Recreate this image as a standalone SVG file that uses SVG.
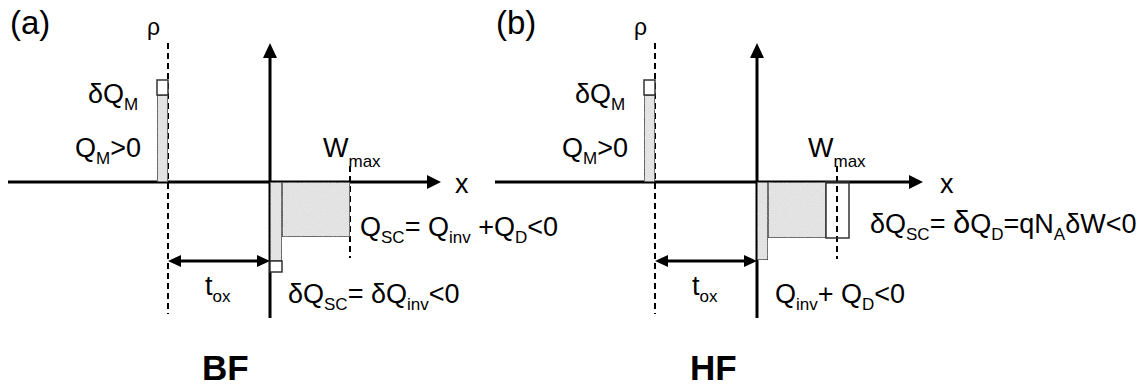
<svg xmlns="http://www.w3.org/2000/svg" width="1148" height="387" viewBox="0 0 1148 387">
<style>
  text { font-family: "Liberation Sans", Arial, sans-serif; fill: #000; white-space: pre; }
  .lbl { font-size: 27px; }
  .sub { font-size: 17px; }
  .panel { font-size: 33px; }
  .rho { font-size: 23px; }
  .big { font-size: 35px; font-weight: bold; }
  .axis { stroke: #000; stroke-width: 3; fill: none; }
  .dash { stroke: #000; stroke-width: 2; stroke-dasharray: 6 4; fill: none; }
  .gray { fill: #e6e6e6; stroke: #333; stroke-width: 1.5; }
  .white { fill: #fff; stroke: #333; stroke-width: 1.5; }
  .head { fill: #000; }
</style>
<defs>
  <filter id="speckle" x="0" y="0" width="1" height="1">
    <feTurbulence type="fractalNoise" baseFrequency="0.9" numOctaves="2" seed="3" result="n"/>
    <feColorMatrix in="n" type="matrix" values="0 0 0 0 0.55  0 0 0 0 0.55  0 0 0 0 0.55  0 0 0 0.5 -0.15" result="dots"/>
    <feComposite in="dots" in2="SourceGraphic" operator="in" result="d2"/>
    <feMerge><feMergeNode in="SourceGraphic"/><feMergeNode in="d2"/></feMerge>
  </filter>
</defs>

<!-- Panel (a) -->
<g id="panel-a">
  <text class="panel" x="10" y="34">(a)</text>
  <text class="rho" x="147" y="35">ρ</text>
  <g id="a-axes">
    <line class="axis" x1="8" y1="182" x2="429" y2="182"/>
    <polygon class="head" points="441,182 427,175 427,189"/>
    <line class="axis" x1="270" y1="318" x2="270" y2="56"/>
    <polygon class="head" points="270,43 263,58 277,58"/>
    <line class="dash" x1="168" y1="43" x2="168" y2="314"/>
    <line class="dash" x1="350" y1="166" x2="350" y2="258"/>
  </g>
  <g id="a-bars">
    <rect class="gray" x="157" y="95" width="11" height="87" filter="url(#speckle)"/>
    <rect class="white" x="157" y="80" width="11" height="15"/>
    <rect class="gray" x="270" y="182" width="12" height="79" filter="url(#speckle)"/>
    <rect class="white" x="270" y="261" width="12" height="11"/>
    <rect class="gray" x="282" y="182" width="68" height="55" filter="url(#speckle)"/>
  </g>
  <g id="a-tox">
    <line class="axis" x1="180" y1="261" x2="258" y2="261"/>
    <polygon class="head" points="168,261 181,255 181,267"/>
    <polygon class="head" points="270,261 257,255 257,267"/>
    <text class="lbl" x="205" y="295">t<tspan class="sub" dy="7">ox</tspan></text>
  </g>
  <text class="lbl" x="88" y="103">δQ<tspan class="sub" dy="7">M</tspan></text>
  <text class="lbl" x="75" y="157">Q<tspan class="sub" dy="7">M</tspan><tspan dy="-7">&gt;0</tspan></text>
  <text class="lbl" x="323" y="157">W<tspan class="sub" dy="10">max</tspan></text>
  <text class="lbl" x="455" y="193">x</text>
  <text class="lbl" x="360" y="236">Q<tspan class="sub" dy="7">SC</tspan><tspan dy="-7">= Q</tspan><tspan class="sub" dy="7">inv</tspan><tspan dy="-7"> +Q</tspan><tspan class="sub" dy="7">D</tspan><tspan dy="-7">&lt;0</tspan></text>
  <text class="lbl" x="288" y="303">δQ<tspan class="sub" dy="7">SC</tspan><tspan dy="-7">= δQ</tspan><tspan class="sub" dy="7">inv</tspan><tspan dy="-7">&lt;0</tspan></text>
  <text class="big" x="202" y="380">BF</text>
</g>

<!-- Panel (b) -->
<g id="panel-b">
  <text class="panel" x="496" y="34">(b)</text>
  <text class="rho" x="634" y="35">ρ</text>
  <g id="b-axes">
    <line class="axis" x1="495" y1="182" x2="911" y2="182"/>
    <polygon class="head" points="923,182 909,175 909,189"/>
    <line class="axis" x1="757" y1="318" x2="757" y2="56"/>
    <polygon class="head" points="757,43 750,58 764,58"/>
    <line class="dash" x1="655" y1="43" x2="655" y2="314"/>
    <line class="dash" x1="837" y1="166" x2="837" y2="259"/>
  </g>
  <g id="b-bars">
    <rect class="gray" x="644" y="95" width="11" height="87" filter="url(#speckle)"/>
    <rect class="white" x="644" y="80" width="11" height="15"/>
    <rect class="gray" x="757" y="182" width="11" height="78" filter="url(#speckle)"/>
    <rect class="gray" x="768" y="182" width="58" height="56" filter="url(#speckle)"/>
    <rect class="white" x="826" y="182" width="23" height="56" fill-opacity="0"/>
  </g>
  <g id="b-tox">
    <line class="axis" x1="667" y1="261" x2="745" y2="261"/>
    <polygon class="head" points="655,261 668,255 668,267"/>
    <polygon class="head" points="757,261 744,255 744,267"/>
    <text class="lbl" x="692" y="295">t<tspan class="sub" dy="7">ox</tspan></text>
  </g>
  <text class="lbl" x="575" y="103">δQ<tspan class="sub" dy="7">M</tspan></text>
  <text class="lbl" x="562" y="157">Q<tspan class="sub" dy="7">M</tspan><tspan dy="-7">&gt;0</tspan></text>
  <text class="lbl" x="808" y="157">W<tspan class="sub" dy="10">max</tspan></text>
  <text class="lbl" x="940" y="193">x</text>
  <text class="lbl" x="870" y="233">δQ<tspan class="sub" dy="7">SC</tspan><tspan dy="-7">= </tspan><tspan style="font-size:31px">δ</tspan><tspan>Q</tspan><tspan class="sub" dy="7">D</tspan><tspan dy="-7">=qN</tspan><tspan class="sub" dy="7">A</tspan><tspan dy="-7">δW&lt;0</tspan></text>
  <text class="lbl" x="775" y="303">Q<tspan class="sub" dy="7">inv</tspan><tspan dy="-7">+ Q</tspan><tspan class="sub" dy="7">D</tspan><tspan dy="-7">&lt;0</tspan></text>
  <text class="big" x="690" y="380">HF</text>
</g>
</svg>
